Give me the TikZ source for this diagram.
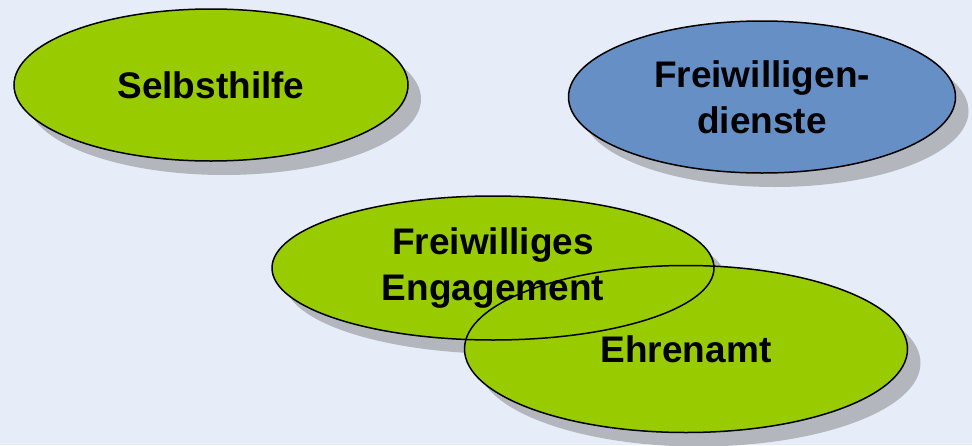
\documentclass[tikz,border=0pt]{standalone}
\usepackage{fontspec}
\setmainfont{Liberation Sans}
\usetikzlibrary{shapes.geometric,shadows}
\definecolor{bgblue}{HTML}{E7EDF8}
\definecolor{limegreen}{HTML}{99CC00}
\definecolor{steelblue}{HTML}{668FC6}
\definecolor{shadowgray}{HTML}{B3B6BD}
\begin{document}
\begin{tikzpicture}[x=1pt, y=-1pt,
    pad/.style = {ellipse, fill=limegreen, inner sep=0pt,
        drop shadow={shadow xshift=13pt, shadow yshift=-14pt, fill=shadowgray, opacity=1}},
    rim/.style = {ellipse, draw, line width=1.5pt, inner sep=0pt, align=center,
        font=\fontsize{37}{46}\selectfont\bfseries},
    blob/.style = {pad, rim}]
        \fill[bgblue] (0,0) rectangle (972,445);
        \node[blob, minimum width=394pt, minimum height=152pt] (sh) at (211,85) {Selbsthilfe};
        \node[blob, fill=steelblue, minimum width=387pt, minimum height=152pt] (fd) at (762,97) {Freiwilligen-\\dienste};
        % fills first, then words and rims on top
        \node[pad, minimum width=442pt, minimum height=144pt] (fe) at (493,268) {};
        \node[pad, minimum width=443pt, minimum height=167pt] (ea) at (686,349) {};
        \node[rim, minimum width=442pt, minimum height=144pt] (feRim) at (fe.center) {Freiwilliges\\Engagement};
        \node[rim, minimum width=443pt, minimum height=167pt] (eaRim) at (ea.center) {Ehrenamt};
    \end{tikzpicture}
\end{document}
